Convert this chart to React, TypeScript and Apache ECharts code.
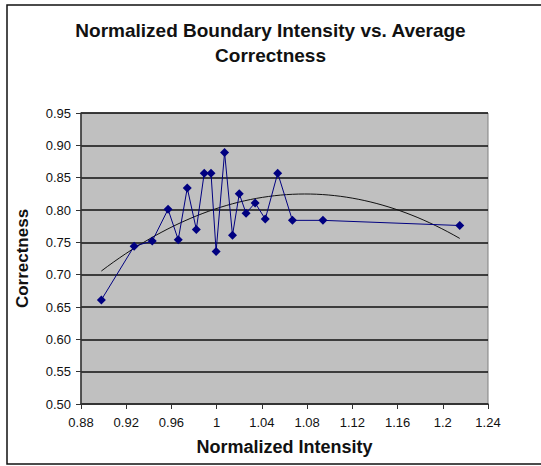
import React, { useEffect, useRef } from "react";
import * as echarts from "echarts";

const titleText = "Normalized Boundary Intensity vs. Average\nCorrectness";
const xName = "Normalized Intensity";
const yName = "Correctness";

const intensity = [
  0.898, 0.927, 0.943, 0.957, 0.966, 0.974, 0.982, 0.989, 0.995, 0.9995,
  1.007, 1.014, 1.020, 1.026, 1.034, 1.043, 1.054, 1.067, 1.094, 1.215,
];
const correctness = [
  0.661, 0.744, 0.752, 0.801, 0.754, 0.834, 0.770, 0.857, 0.857, 0.736,
  0.889, 0.761, 0.825, 0.795, 0.811, 0.786, 0.857, 0.784, 0.784, 0.776,
];

// Excel-style 2nd order polynomial trendline, least squares over the data
function quadFit(xs: number[], ys: number[]) {
  const n = xs.length;
  let s0 = n, s1 = 0, s2 = 0, s3 = 0, s4 = 0, t0 = 0, t1 = 0, t2 = 0;
  for (let i = 0; i < n; i++) {
    const x = xs[i], y = ys[i];
    s1 += x; s2 += x * x; s3 += x * x * x; s4 += x * x * x * x;
    t0 += y; t1 += x * y; t2 += x * x * y;
  }
  const M = [
    [s0, s1, s2, t0],
    [s1, s2, s3, t1],
    [s2, s3, s4, t2],
  ];
  for (let c = 0; c < 3; c++) {
    let p = c;
    for (let r = c + 1; r < 3; r++) if (Math.abs(M[r][c]) > Math.abs(M[p][c])) p = r;
    [M[c], M[p]] = [M[p], M[c]];
    for (let r = 0; r < 3; r++) {
      if (r === c) continue;
      const f = M[r][c] / M[c][c];
      for (let k = c; k < 4; k++) M[r][k] -= f * M[c][k];
    }
  }
  return [M[0][3] / M[0][0], M[1][3] / M[1][1], M[2][3] / M[2][2]];
}

export default function App() {
  const ref = useRef<HTMLDivElement>(null);
  useEffect(() => {
    if (!ref.current) return;
    const chart = echarts.init(ref.current, null, { renderer: "svg" });
    const [a, b, c] = quadFit(intensity, correctness);
    const xmin = Math.min(...intensity), xmax = Math.max(...intensity);
    const trend: number[][] = [];
    const steps = 60;
    for (let i = 0; i <= steps; i++) {
      const x = xmin + ((xmax - xmin) * i) / steps;
      trend.push([x, a + b * x + c * x * x]);
    }
    const font = "'Liberation Sans', Arial, sans-serif";
    chart.setOption({
      animation: false,
      backgroundColor: "#ffffff",
      textStyle: { fontFamily: font },
      title: {
        text: titleText,
        left: "center",
        top: 13,
        textStyle: { fontFamily: font, fontSize: 19, fontWeight: "bold", color: "#111", lineHeight: 25 },
      },
      graphic: [
        {
          type: "rect",
          shape: { x: 7, y: 5, width: 540, height: 459 },
          style: { fill: "none", stroke: "#111", lineWidth: 1.5 },
          silent: true,
        },
      ],
      grid: {
        left: 81, top: 113, width: 407, height: 291,
        show: true, backgroundColor: "#C0C0C0", borderColor: "#808080", borderWidth: 1,
      },
      xAxis: {
        type: "value",
        min: 0.88, max: 1.24, interval: 0.04,
        name: xName, nameLocation: "middle", nameGap: 34,
        nameTextStyle: { fontFamily: font, fontSize: 18, fontWeight: "bold", color: "#111" },
        axisLine: { show: true, onZero: false, lineStyle: { color: "#333", width: 1.5 } },
        axisTick: { show: true, inside: false, length: 5, lineStyle: { color: "#333" } },
        axisLabel: {
          margin: 12, fontSize: 13, color: "#111", fontFamily: font,
          formatter: (v: number) => String(parseFloat(v.toFixed(2))),
        },
        splitLine: { show: false },
      },
      yAxis: {
        type: "value",
        min: 0.5, max: 0.95, interval: 0.05,
        name: yName, nameLocation: "middle", nameGap: 50,
        nameTextStyle: { fontFamily: font, fontSize: 17, fontWeight: "bold", color: "#111" },
        axisLine: { show: true, onZero: false, lineStyle: { color: "#333", width: 1.5 } },
        axisTick: { show: true, inside: false, length: 5, lineStyle: { color: "#333" } },
        axisLabel: {
          margin: 10, fontSize: 13, color: "#111", fontFamily: font,
          formatter: (v: number) => v.toFixed(2),
        },
        splitLine: { show: true, lineStyle: { color: "#111", width: 1.5 } },
      },
      series: [
        {
          type: "line",
          data: intensity.map((x, i) => [x, correctness[i]]),
          symbol: "diamond",
          symbolSize: 9,
          itemStyle: { color: "#000080" },
          lineStyle: { color: "#000080", width: 1 },
          z: 3,
        },
        {
          type: "line",
          data: trend,
          symbol: "none",
          smooth: false,
          lineStyle: { color: "#111", width: 1 },
          z: 2,
        },
      ],
    });
    return () => chart.dispose();
  }, []);
  return <div ref={ref} style={{ width: 541, height: 466, position: "absolute", left: 0, top: 0 }} />;
}
